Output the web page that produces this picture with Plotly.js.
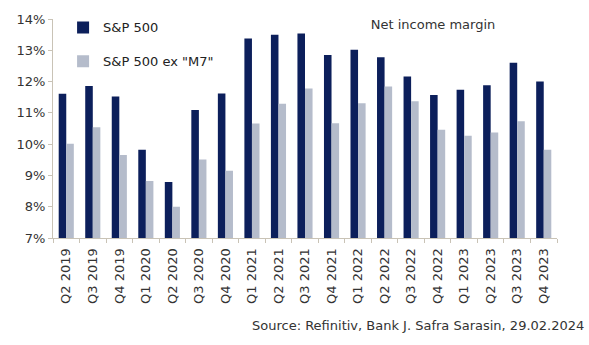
<!DOCTYPE html>
<html><head><meta charset="utf-8">
<script src="https://cdn.plot.ly/plotly-3.0.1.min.js"></script>
<style>html,body{margin:0;padding:0;background:#fff;}#chart{width:589px;height:345px;}</style>
</head><body><div id="chart"></div>
<script>
const quarters = ["Q2 2019","Q3 2019","Q4 2019","Q1 2020","Q2 2020","Q3 2020","Q4 2020","Q1 2021","Q2 2021","Q3 2021","Q4 2021","Q1 2022","Q2 2022","Q3 2022","Q4 2022","Q1 2023","Q2 2023","Q3 2023","Q4 2023"];
const sp500 = [11.61,11.86,11.52,9.82,8.79,11.09,11.62,13.38,13.50,13.54,12.85,13.02,12.78,12.16,11.57,11.74,11.88,12.60,12.00];
const sp500exM7 = [10.01,10.54,9.65,8.82,8.00,9.51,9.15,10.66,11.29,11.78,10.67,11.31,11.84,11.37,10.46,10.27,10.37,10.73,9.82];
const yTicks = [7,8,9,10,11,12,13,14];
const yTickLabels = yTicks.map(v => v + "%");

const font = "DejaVu Sans, Verdana, sans-serif";
const traces = [
  {type:"bar", x:quarters, y:sp500, name:"S&P 500", marker:{color:"#0c1f5b"}, legendgroup:"a"},
  {type:"bar", x:quarters, y:sp500exM7, name:'S&P 500 ex "M7"', marker:{color:"#b5bccb"}, legendgroup:"b"}
];
const layout = {
  width:589, height:345,
  margin:{l:53, r:32, t:16, b:107},
  paper_bgcolor:"#fff", plot_bgcolor:"#fff",
  font:{family:font, size:13, color:"#333"},
  barmode:"group", bargap:0.43, bargroupgap:0,
  title:{text:"Net income margin", font:{family:font, size:13, color:"#333"}, x:0.754, xref:"paper", xanchor:"center", y:0.93, yref:"container", yanchor:"middle", automargin:false},
  xaxis:{type:"category", tickangle:-90, ticks:"outside", tickson:"boundaries", ticklen:4, tickcolor:"#c9c3b6", ticklabelstandoff:4, automargin:false,
         showline:true, linecolor:"#c9c3b6", linewidth:1, showgrid:false, tickfont:{size:13, color:"#333"}, fixedrange:true},
  yaxis:{range:[7,14], tickvals:yTicks, ticktext:yTickLabels, ticks:"outside", ticklen:4, tickcolor:"#c9c3b6", automargin:false,
         showline:true, linecolor:"#c9c3b6", linewidth:1, showgrid:false, zeroline:false, tickfont:{size:13, color:"#333"}},
  legend:{x:0.02, xanchor:"left", y:1.03, yanchor:"top", bgcolor:"rgba(0,0,0,0)", font:{size:13, color:"#222"},
          tracegroupgap:14, itemwidth:30},
  showlegend:true,
  annotations:[{text:"Source: Refinitiv, Bank J. Safra Sarasin, 29.02.2024", xref:"paper", yref:"paper", x:1.057, y:-0.4,
                xanchor:"right", yanchor:"middle", showarrow:false, font:{size:13, color:"#333"}}]
};
Plotly.newPlot("chart", traces, layout, {displayModeBar:false, staticPlot:true});
</script></body></html>
